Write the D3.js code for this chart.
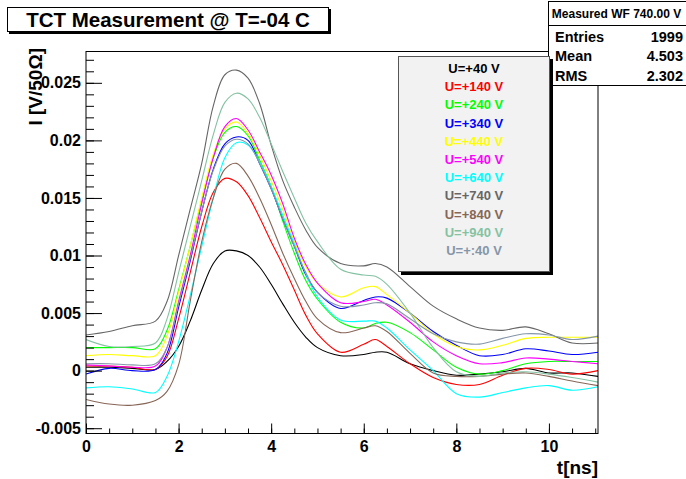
<!DOCTYPE html>
<html>
<head>
<meta charset="utf-8">
<script src="https://cdn.jsdelivr.net/npm/d3@7"></script>
<style>
  body { margin: 0; background: #fff; }
  svg { display: block; font-family: "Liberation Sans", Arial, sans-serif; font-weight: bold; }
</style>
</head>
<body>
<div id="graph"></div>
<script>
// time grid [ns]
var tNs = [0, 0.5, 1.0, 1.5, 1.75, 2.0, 2.25, 2.5, 2.75, 3.0, 3.25, 3.5, 3.75, 4.0, 4.25, 4.5, 4.75, 5.0,
	5.5, 6.0, 6.25, 6.5, 7.0, 7.5, 8.0, 8.5, 9.0, 9.5, 10.0, 10.5, 11.06];

// current [V/50 Ohm] per bias voltage
var u40  = [0.0003, 0.0003, 0.0002, 0.0001, 0.0008, 0.0021, 0.0043, 0.0070, 0.0093, 0.0104, 0.0104, 0.0100, 0.0090, 0.0075, 0.0058, 0.0042, 0.0029, 0.0020, 0.0013, 0.0014, 0.0016, 0.0016, 0.0006, 0.0000, -0.0004, -0.0003, -0.0001, 0.0002, -0.0002, -0.0002, -0.0005];
var u140 = [0.0004, 0.0004, 0.0003, 0.0001, 0.0012, 0.0045, 0.0085, 0.0125, 0.0155, 0.0167, 0.0164, 0.0152, 0.0133, 0.0112, 0.0092, 0.0070, 0.0048, 0.0032, 0.0016, 0.0023, 0.0027, 0.0021, 0.0006, -0.0006, -0.0012, -0.0012, -0.0004, 0.0002, 0.0001, -0.0003, 0.0000];
var u240 = [0.0020, 0.0020, 0.0020, 0.0019, 0.0035, 0.0070, 0.0108, 0.0148, 0.0185, 0.0207, 0.0212, 0.0204, 0.0183, 0.0160, 0.0130, 0.0102, 0.0078, 0.0062, 0.0042, 0.0037, 0.0041, 0.0042, 0.0033, 0.0018, 0.0003, -0.0003, 0.0000, 0.0006, 0.0008, 0.0008, 0.0008];
var u340 = [-0.0003, 0.0002, 0.0000, 0.0001, 0.0015, 0.0055, 0.0095, 0.0138, 0.0175, 0.0197, 0.0203, 0.0200, 0.0180, 0.0158, 0.0132, 0.0108, 0.0083, 0.0068, 0.0054, 0.0061, 0.0064, 0.0063, 0.0050, 0.0034, 0.0022, 0.0013, 0.0014, 0.0019, 0.0017, 0.0014, 0.0016];
var u440 = [0.0013, 0.0014, 0.0013, 0.0013, 0.0030, 0.0068, 0.0108, 0.0150, 0.0188, 0.0210, 0.0216, 0.0206, 0.0187, 0.0165, 0.0140, 0.0112, 0.0090, 0.0076, 0.0064, 0.0072, 0.0073, 0.0066, 0.0050, 0.0032, 0.0021, 0.0018, 0.0022, 0.0028, 0.0029, 0.0029, 0.0029];
var u540 = [0.0005, 0.0004, 0.0003, 0.0004, 0.0020, 0.0060, 0.0100, 0.0145, 0.0185, 0.0212, 0.0219, 0.0209, 0.0190, 0.0170, 0.0145, 0.0115, 0.0092, 0.0076, 0.0059, 0.0060, 0.0062, 0.0057, 0.0042, 0.0025, 0.0013, 0.0006, 0.0007, 0.0011, 0.0010, 0.0008, 0.0006];
var u640 = [-0.0015, -0.0014, -0.0016, -0.0019, -0.0005, 0.0025, 0.0065, 0.0108, 0.0150, 0.0185, 0.0198, 0.0196, 0.0181, 0.0160, 0.0135, 0.0110, 0.0084, 0.0064, 0.0044, 0.0043, 0.0043, 0.0037, 0.0018, 0.0000, -0.0020, -0.0023, -0.0019, -0.0015, -0.0013, -0.0017, -0.0014];
var u740 = [0.0031, 0.0034, 0.0039, 0.0043, 0.0060, 0.0100, 0.0140, 0.0180, 0.0230, 0.0257, 0.0261, 0.0254, 0.0232, 0.0196, 0.0165, 0.0142, 0.0122, 0.0107, 0.0093, 0.0091, 0.0093, 0.0090, 0.0073, 0.0056, 0.0045, 0.0037, 0.0035, 0.0038, 0.0032, 0.0024, 0.0024];
var u840 = [-0.0025, -0.0029, -0.0030, -0.0026, -0.0018, 0.0005, 0.0060, 0.0112, 0.0150, 0.0175, 0.0180, 0.0169, 0.0150, 0.0127, 0.0102, 0.0080, 0.0060, 0.0045, 0.0033, 0.0037, 0.0039, 0.0034, 0.0015, -0.0002, -0.0005, -0.0005, -0.0003, -0.0002, -0.0005, -0.0009, -0.0013];
var u940 = [0.0027, 0.0021, 0.0021, 0.0024, 0.0045, 0.0085, 0.0125, 0.0165, 0.0205, 0.0233, 0.0241, 0.0236, 0.0220, 0.0197, 0.0173, 0.0150, 0.0128, 0.0112, 0.0088, 0.0083, 0.0082, 0.0075, 0.0050, 0.0020, -0.0001, -0.0005, -0.0002, -0.0001, -0.0003, -0.0006, -0.0010];
var u1040 = [0.0006, 0.0006, 0.0005, 0.0006, 0.0020, 0.0058, 0.0097, 0.0138, 0.0174, 0.0195, 0.0201, 0.0197, 0.0180, 0.0158, 0.0132, 0.0108, 0.0085, 0.0068, 0.0056, 0.0057, 0.0059, 0.0058, 0.0045, 0.0032, 0.0025, 0.0023, 0.0028, 0.0032, 0.0031, 0.0027, 0.0030];

var seriesValues = [u40, u140, u240, u340, u440, u540, u640, u740, u840, u940, u1040];
var legendLabels = ['U=+40 V', 'U=+140 V', 'U=+240 V', 'U=+340 V', 'U=+440 V', 'U=+540 V',
	'U=+640 V', 'U=+740 V', 'U=+840 V', 'U=+940 V', 'U=+:40 V'];
var lineColors = ['#000000', '#ff0000', '#00ff00', '#0000ff', '#ffff00', '#ff00ff',
	'#00ffff', '#666666', '#876657', '#85c2a3', '#8596a8'];

var xTicksMajor = [0, 2, 4, 6, 8, 10];
var yTicksMajor = [-0.005, 0, 0.005, 0.01, 0.015, 0.02, 0.025];

var statsTitle = 'Measured WF 740.00 V';
var statsRows = [['Entries', '1999'], ['Mean', '4.503'], ['RMS', '2.302']];

var width = 686, height = 479;
var frame = {left: 86, right: 598, top: 51.5, bottom: 433.5};

var xScale = d3.scaleLinear().domain([0, 11.06]).range([frame.left, frame.right]);
var yScale = d3.scaleLinear().domain([-0.00546, 0.02772]).range([frame.bottom, frame.top]);

var svg = d3.select('#graph').append('svg')
	.attr('width', width)
	.attr('height', height);

svg.append('rect').attr('width', width).attr('height', height).attr('fill', '#fff');

svg.append('defs').append('clipPath').attr('id', 'plotclip')
	.append('rect')
		.attr('x', frame.left).attr('y', frame.top)
		.attr('width', frame.right - frame.left).attr('height', frame.bottom - frame.top);

// curves
var line = d3.line()
	.x(function(d, i) { return xScale(tNs[i]); })
	.y(function(d) { return yScale(d); })
	.curve(d3.curveCatmullRom);

svg.append('g').attr('clip-path', 'url(#plotclip)')
	.selectAll('path').data(seriesValues).enter()
	.append('path')
		.attr('d', line)
		.attr('fill', 'none')
		.attr('stroke', function(d, i) { return lineColors[i]; })
		.attr('stroke-width', 1.1);

// frame
svg.append('rect')
	.attr('x', frame.left).attr('y', frame.top)
	.attr('width', frame.right - frame.left).attr('height', frame.bottom - frame.top)
	.attr('fill', 'none').attr('stroke', '#000').attr('stroke-width', 1);

// axes: minor ticks first, then labelled major ticks
var xMinor = d3.range(0, 11.01, 0.5);
var yMinor = d3.range(-0.005, 0.0275, 0.001);

svg.append('g')
	.attr('transform', 'translate(0,' + frame.bottom + ')')
	.call(d3.axisBottom(xScale).tickValues(xMinor).tickSize(-5).tickFormat(''));

svg.append('g')
	.attr('class', 'xAxis')
	.attr('transform', 'translate(0,' + frame.bottom + ')')
	.call(d3.axisBottom(xScale).tickValues(xTicksMajor).tickSize(-10).tickPadding(4)
		.tickFormat(function(d) { return String(d); }));

svg.append('g')
	.attr('transform', 'translate(' + frame.left + ',0)')
	.call(d3.axisLeft(yScale).tickValues(yMinor).tickSize(-8).tickFormat(''));

svg.append('g')
	.attr('class', 'yAxis')
	.attr('transform', 'translate(' + frame.left + ',0)')
	.call(d3.axisLeft(yScale).tickValues(yTicksMajor).tickSize(-16).tickPadding(5)
		.tickFormat(function(d) { return String(+d.toFixed(3)); }));

svg.selectAll('.domain').remove();
svg.selectAll('.tick line').attr('stroke', '#000');
svg.selectAll('.xAxis .tick text, .yAxis .tick text')
	.attr('fill', '#000')
	.style('font-size', '16px')
	.style('font-family', '"Liberation Sans", Arial, sans-serif')
	.style('font-weight', 'bold');
svg.selectAll('.xAxis .tick text').attr('y', 6).attr('dy', '0.78em');

// axis titles
svg.append('text')
	.attr('x', frame.right).attr('y', 474)
	.attr('text-anchor', 'end')
	.style('font-size', '19px')
	.text('t[ns]');

svg.append('text')
	.attr('transform', 'translate(42,48) rotate(-90)')
	.attr('text-anchor', 'end')
	.style('font-size', '19px')
	.text('I [V/50\u03a9]');

// stats box
var stats = svg.append('g');
stats.append('rect')
	.attr('x', 548.5).attr('y', 1.5).attr('width', 138).attr('height', 84)
	.attr('fill', '#fff').attr('stroke', '#000');
stats.append('line')
	.attr('x1', 548.5).attr('x2', 686).attr('y1', 25.5).attr('y2', 25.5)
	.attr('stroke', '#000');
stats.append('text')
	.attr('x', 616.5).attr('y', 18)
	.attr('text-anchor', 'middle')
	.style('font-size', '12px')
	.text(statsTitle);
stats.selectAll('.row').data(statsRows).enter()
	.append('g')
	.each(function(d, i) {
		var g = d3.select(this);
		g.append('text').attr('x', 555).attr('y', 42 + i * 19.3)
			.style('font-size', '14.5px').text(d[0]);
		g.append('text').attr('x', 683).attr('y', 42 + i * 19.3)
			.attr('text-anchor', 'end')
			.style('font-size', '14.5px').text(d[1]);
	});

// legend
var legend = svg.append('g');
legend.append('rect')
	.attr('x', 401).attr('y', 59).attr('width', 152).attr('height', 216)
	.attr('fill', '#000');
legend.append('rect')
	.attr('x', 398.5).attr('y', 56.5).attr('width', 151).attr('height', 215)
	.attr('fill', '#f2f2f2').attr('stroke', '#555');
legend.selectAll('text').data(legendLabels).enter()
	.append('text')
		.attr('x', 474)
		.attr('y', function(d, i) { return 73 + i * 18.2; })
		.attr('text-anchor', 'middle')
		.attr('fill', function(d, i) { return lineColors[i]; })
		.style('font-size', '13px')
		.text(function(d) { return d; });

// title box
var title = svg.append('g');
title.append('rect')
	.attr('x', 9).attr('y', 9).attr('width', 322).attr('height', 25)
	.attr('fill', '#000');
title.append('rect')
	.attr('x', 7.5).attr('y', 7.5).attr('width', 321).attr('height', 24)
	.attr('fill', '#fff').attr('stroke', '#000');
title.append('text')
	.attr('x', 168).attr('y', 27)
	.attr('text-anchor', 'middle')
	.style('font-size', '20.5px')
	.text('TCT Measurement @ T=-04 C');
</script>
</body>
</html>
